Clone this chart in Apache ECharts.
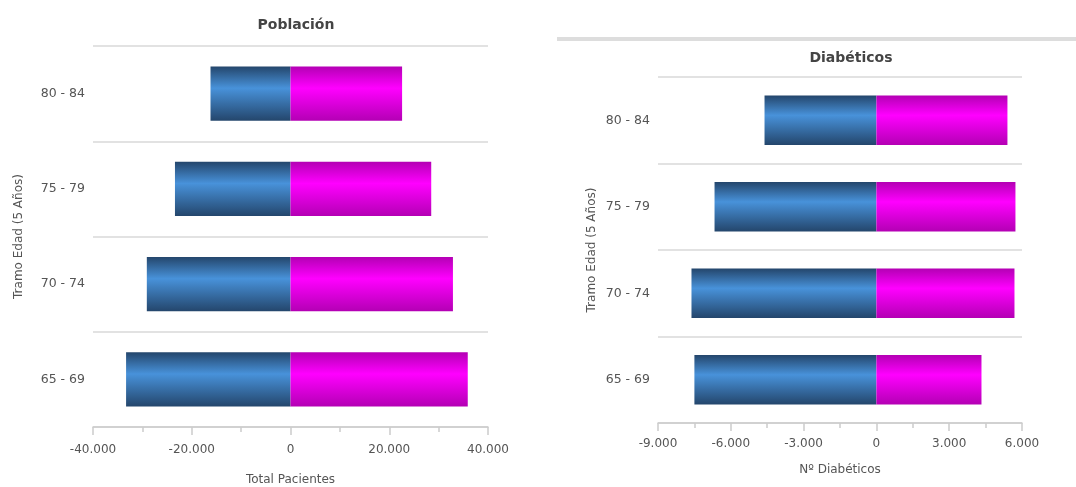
<!DOCTYPE html>
<html>
<head>
<meta charset="utf-8">
<script src="https://cdn.jsdelivr.net/npm/echarts@6/dist/echarts.min.js"></script>
<style>
  html, body { margin: 0; padding: 0; background: #fff; }
  #main { width: 1076px; height: 487px; }
</style>
</head>
<body>
<div id="main"></div>
<script>
// 年龄段（从下到上）
var tramos = ["65 - 69", "70 - 74", "75 - 79", "80 - 84"];

// 人口：左边（负值）和右边
var poblacionIzq = [-33300, -29100, -23400, -16200];
var poblacionDer = [35900, 32900, 28500, 22600];

// 糖尿病患者
var diabIzq = [-7500, -7620, -6670, -4610];
var diabDer = [4330, 5690, 5730, 5400];

// 刻度
var ejePoblacion = { min: -40000, max: 40000, interval: 20000 };
var ejeDiab = { min: -9000, max: 6000, interval: 3000 };

(function () {
  var myChart = echarts.init(document.getElementById("main"));

  // 千位用点号
  function fmt(v) {
    var s = Math.abs(v).toString().replace(/\B(?=(\d{3})+(?!\d))/g, ".");
    return (v < 0 ? "-" : "") + s;
  }

  var fontFam = "DejaVu Sans";

  // 柱子渐变色
  var azul = new echarts.graphic.LinearGradient(0, 0, 0, 1, [
    { offset: 0, color: "#24466c" },
    { offset: 0.4, color: "#4892da" },
    { offset: 1, color: "#24466c" }
  ]);
  var rosa = new echarts.graphic.LinearGradient(0, 0, 0, 1, [
    { offset: 0, color: "#b400b4" },
    { offset: 0.4, color: "#ff00ff" },
    { offset: 1, color: "#b400b4" }
  ]);

  function xAxisCfg(idx, eje, name, gap, margin) {
    return {
      type: "value",
      gridIndex: idx,
      min: eje.min,
      max: eje.max,
      interval: eje.interval,
      name: name,
      nameLocation: "middle",
      nameGap: gap,
      nameTextStyle: { color: "#555", fontSize: 12, fontFamily: fontFam },
      axisLine: { show: true, lineStyle: { color: "#cccccc", width: 1.5 } },
      axisTick: { show: true, length: 8, lineStyle: { color: "#cccccc", width: 1.5 } },
      minorTick: { show: true, splitNumber: 2, length: 5, lineStyle: { color: "#cccccc", width: 1.5 } },
      splitLine: { show: false },
      axisLabel: { color: "#555", fontSize: 12, fontFamily: fontFam, margin: margin, formatter: fmt }
    };
  }

  function yAxisCfg(idx, gap) {
    return {
      type: "category",
      gridIndex: idx,
      data: tramos,
      name: "Tramo Edad (5 Años)",
      nameLocation: "middle",
      nameGap: gap,
      nameTextStyle: { color: "#555", fontSize: 12, fontFamily: fontFam },
      axisLine: { show: false },
      axisTick: { show: false },
      splitLine: { show: true, lineStyle: { color: "#d8d8d8", width: 1.5 } },
      axisLabel: { color: "#555", fontSize: 12.5, fontFamily: fontFam, margin: 8 }
    };
  }

  function barSerie(name, xi, data, color) {
    return {
      name: name,
      type: "bar",
      xAxisIndex: xi,
      yAxisIndex: xi,
      stack: "s" + xi,
      barWidth: "57%",
      data: data,
      itemStyle: { color: color }
    };
  }

  var option = {
    animation: false,
    title: [
      {
        text: "Población",
        left: 291, top: 13, textAlign: "center",
        textStyle: { color: "#444", fontSize: 14, fontWeight: "bold", fontFamily: fontFam }
      },
      {
        text: "Diabéticos",
        left: 846, top: 46, textAlign: "center",
        textStyle: { color: "#444", fontSize: 14, fontWeight: "bold", fontFamily: fontFam }
      }
    ],
    // 右侧上方灰色分隔线
    graphic: [{
      type: "rect",
      shape: { x: 557, y: 37, width: 519, height: 4 },
      style: { fill: "#dddddd" }
    }],
    grid: [
      { left: 93, right: 588, top: 46, bottom: 60, outerBoundsMode: "none" },
      { left: 658, right: 54, top: 77, bottom: 64, outerBoundsMode: "none" }
    ],
    xAxis: [
      xAxisCfg(0, ejePoblacion, "Total Pacientes", 47, 17),
      xAxisCfg(1, ejeDiab, "Nº Diabéticos", 41, 15)
    ],
    yAxis: [
      yAxisCfg(0, 68),
      yAxisCfg(1, 60)
    ],
    series: [
      barSerie("Hombres", 0, poblacionIzq, azul),
      barSerie("Mujeres", 0, poblacionDer, rosa),
      barSerie("Hombres", 1, diabIzq, azul),
      barSerie("Mujeres", 1, diabDer, rosa)
    ]
  };

  myChart.setOption(option);

  window.addEventListener("resize", function () {
    myChart.resize();
  });
})();
</script>
</body>
</html>
